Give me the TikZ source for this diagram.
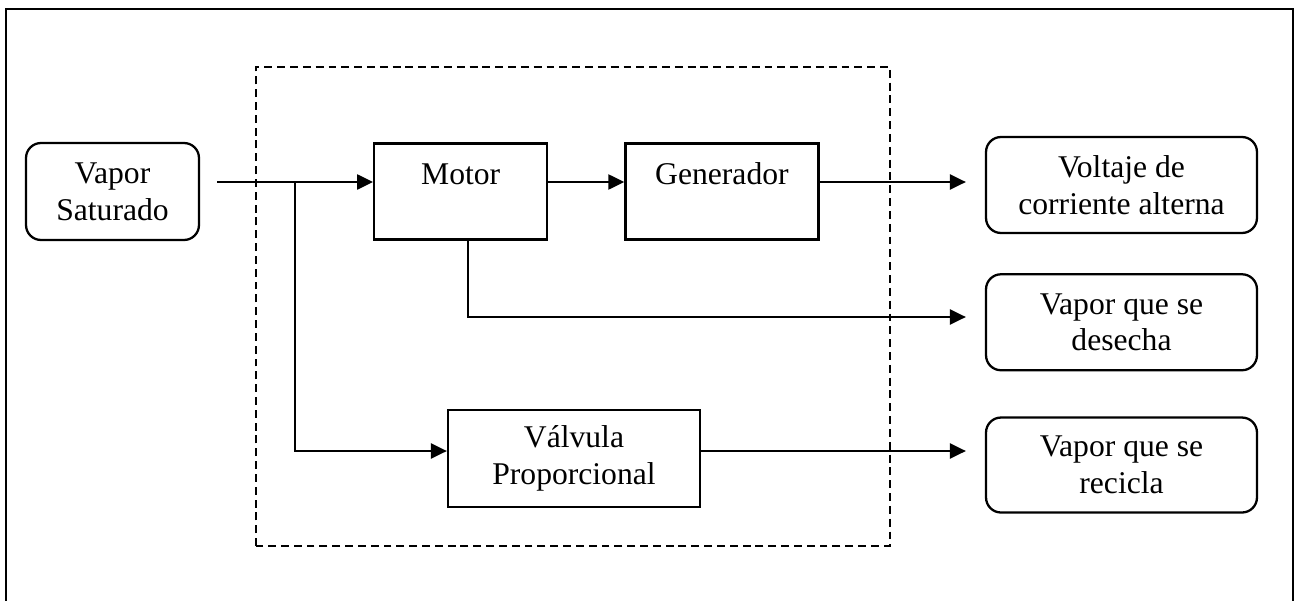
\documentclass[tikz,border=0pt]{standalone}
\usepackage{fontspec}
\setmainfont{Liberation Serif}
\usepackage{tikz}
\usetikzlibrary{calc}
\usetikzlibrary{positioning}
\usetikzlibrary{arrows.meta}
\tikzstyle{endnode} = [draw, rectangle, rounded corners=0.3cm, align=center, minimum width=5.42cm, minimum height=1.92cm]
\tikzstyle{blocknode} = [draw, rectangle, inner ysep=0pt, text height=0.82cm, text depth=1.1cm, minimum width=3.46cm]
\tikzstyle{outarrow} = [->, shorten >=0.38cm]

\begin{document}
\begin{tikzpicture}[x=0.02cm, y=0.02cm, line width=1.3pt,
    >={Triangle[length=0.32cm, width=0.3cm]},
    font=\fontsize{18}{21}\selectfont]
  \useasboundingbox (0,0) rectangle (1295,600);
  \draw (6,-5) -- (6,591) -- (1293,591) -- (1293,-5);
  \draw[dash pattern=on 4.5pt off 2.8pt] (256,54) rectangle (890,533);

  \node[endnode, minimum width=3.46cm, minimum height=1.94cm] (vapor) at (112.5,408.5) {Vapor\\Saturado};
  \node[blocknode, right=3.46cm of vapor] (motor) {Motor};
  \node[blocknode, right=1.52cm of motor, minimum width=3.86cm] (gen) {Generador};
  \node[draw, rectangle, align=center, minimum width=5.04cm, minimum height=1.94cm] (valve) at (574,141.5) {V\'alvula\\Proporcional};

  \node[endnode] (volt) at (1121.5,415) {Voltaje de\\corriente alterna};
  \node[endnode, below=0.78cm of volt] (waste) {Vapor que se\\desecha};
  \node[endnode, below=0.9cm of waste, minimum height=1.9cm] (recycle) {Vapor que se\\recicla};

  \coordinate (in) at (217,418);
  \coordinate (split) at (295,418);
  \coordinate (tap) at (468,283);
  \coordinate (row3) at (295,149);

  \draw[->] (in) -- (in -| motor.west);
  \draw[->] (split) |- (valve.west |- row3);
  \draw[->] (motor.east |- in) -- (gen.west |- in);
  \draw[outarrow] (gen.east |- in) -- (volt.west |- in);
  \draw[outarrow] (motor.south -| tap) |- (waste.west |- tap);
  \draw[outarrow] (valve.east |- row3) -- (recycle.west |- row3);
\end{tikzpicture}
\end{document}
